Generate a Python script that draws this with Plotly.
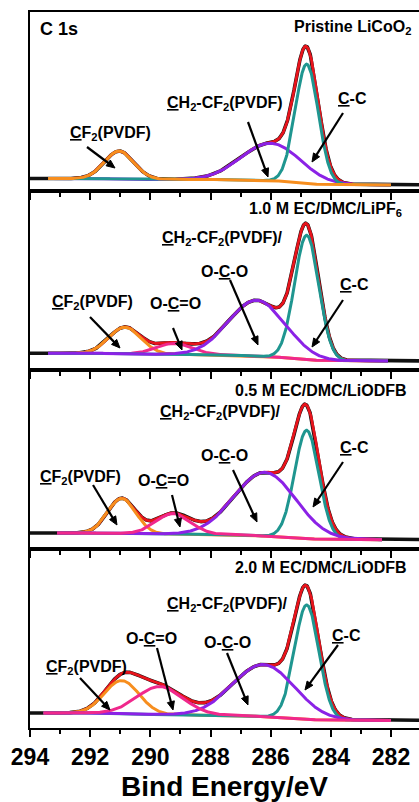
import math
import numpy as np
import plotly.graph_objects as go
from plotly.subplots import make_subplots

# ---------------- data ----------------
panel_labels = ["Pristine LiCoO<sub>2</sub>", "1.0 M EC/DMC/LiPF<sub>6</sub>",
                "0.5 M EC/DMC/LiODFB", "2.0 M EC/DMC/LiODFB"]

# fitted components: peak position (eV), peak height above background (a.u.), FWHM (eV)
cc_pos = [284.80, 284.80, 284.80, 284.80]          # C-C
cc_height = [119.0, 124.0, 108.0, 114.0]
cc_fwhm = [0.90, 0.95, 0.95, 0.95]

ch2_pos = [286.00, 286.46, 286.19, 286.24]         # CH2-CF2(PVDF) / O-C-O
ch2_height = [37.5, 56.0, 63.6, 52.0]
ch2_fwhm = [2.30, 2.20, 2.40, 2.40]

oco_pos = [None, 289.20, 289.24, 289.68]           # O-C=O (absent in pristine)
oco_height = [0.0, 11.0, 20.5, 28.0]
oco_fwhm = [None, 1.40, 1.35, 1.80]

cf2_pos = [291.03, 290.84, 290.95, 290.95]         # CF2(PVDF)
cf2_height = [28.0, 26.6, 35.0, 33.0]
cf2_fwhm = [1.15, 1.25, 1.10, 1.35]

bg_high = [12.4, 16.7, 16.0, 15.0]                 # background, high-BE side
bg_low = [6.0, 9.0, 9.3, 7.6]                      # background, low-BE side
fit_start = [293.40, 293.40, 293.10, 293.55]
fit_end = [282.00, 282.10, 282.30, 282.00]

x_ticks = [294, 292, 290, 288, 286, 284, 282]

# ---------------- styling ----------------
FONT = "Liberation Sans, Arial, sans-serif"
C_BLACK = "#111111"
C_RED = "#E8141C"
C_ORANGE = "#F78E1E"
C_PURPLE = "#8B22E6"
C_TEAL = "#1F9690"
C_PINK = "#F0288C"

draw_order = [
    ["ch2", "cc", "cf2"],
    ["cf2", "oco", "cc", "ch2"],
    ["cf2", "cc", "ch2", "oco"],
    ["cf2", "cc", "ch2", "oco"],
]
comp_color = {"cc": C_TEAL, "ch2": C_PURPLE, "oco": C_PINK, "cf2": C_ORANGE}


def gauss(E, c, h, w):
    s = w / 2.3548
    return h * np.exp(-0.5 * ((E - c) / s) ** 2)


fig = make_subplots(rows=4, cols=1, shared_xaxes=True, vertical_spacing=0)

for i in range(4):
    row = i + 1
    E = np.arange(fit_end[i], fit_start[i] + 1e-9, 0.01)
    comps = {
        "cc": gauss(E, cc_pos[i], cc_height[i], cc_fwhm[i]),
        "ch2": gauss(E, ch2_pos[i], ch2_height[i], ch2_fwhm[i]),
        "cf2": gauss(E, cf2_pos[i], cf2_height[i], cf2_fwhm[i]),
    }
    if oco_pos[i] is not None:
        comps["oco"] = gauss(E, oco_pos[i], oco_height[i], oco_fwhm[i])
    total = sum(comps.values())
    frac = np.cumsum(total) / np.sum(total)
    bg = bg_low[i] + (bg_high[i] - bg_low[i]) * frac
    env = bg + total

    # measured spectrum (black), extends beyond the fit window
    xd = np.concatenate([[280.5], E, [294.5]])
    yd = np.concatenate([[bg_low[i]], env, [bg_high[i]]])
    fig.add_trace(go.Scatter(x=xd, y=yd, mode="lines", hoverinfo="skip",
                             line=dict(color=C_BLACK, width=3.6)), row=row, col=1)
    fig.add_trace(go.Scatter(x=E, y=env, mode="lines", hoverinfo="skip",
                             line=dict(color=C_RED, width=2.8)), row=row, col=1)
    for k in draw_order[i]:
        fig.add_trace(go.Scatter(x=E, y=bg + comps[k], mode="lines", hoverinfo="skip",
                                 line=dict(color=comp_color[k], width=3)), row=row, col=1)

for r in range(1, 5):
    fig.update_xaxes(row=r, col=1, range=[294, 281.07], autorange=False,
                     showline=True, linewidth=2, linecolor="black", mirror=True,
                     ticks="outside", ticklen=7, tickwidth=2, tickcolor="black",
                     tickvals=x_ticks, ticktext=[str(v) for v in x_ticks],
                     minor=dict(ticks="outside", ticklen=4, tickwidth=2, tickcolor="black",
                                tickvals=[293, 291, 289, 287, 285, 283]),
                     showgrid=False, zeroline=False, showticklabels=(r == 4),
                     tickfont=dict(family=FONT, size=23, color="black", weight="bold"))
    fig.update_yaxes(row=r, col=1, range=[0, 179], autorange=False,
                     showline=True, linewidth=2, linecolor="black", mirror=False,
                     ticks="", showticklabels=False, showgrid=False, zeroline=False)

fig.update_xaxes(row=4, col=1,
                 title=dict(text="<b>Bind Energy/eV</b>", standoff=8,
                            font=dict(family=FONT, size=28, color="black")))

fig.update_layout(width=419, height=802, showlegend=False,
                  margin=dict(l=30, r=0, t=12, b=74),
                  plot_bgcolor="white", paper_bgcolor="white")

# ---------------- annotations (pixel positions) ----------------
def pxx(x):
    return (x - 30) / 389.0


def pyy(y):
    return (728 - y) / 716.0


ann = []
shapes = []


def label(text, x, y, size=16, xanchor="center"):
    ann.append(dict(text="<b>" + text + "</b>", x=pxx(x), y=pyy(y), xref="paper", yref="paper",
                    showarrow=False, xanchor=xanchor, yanchor="middle",
                    font=dict(family=FONT, size=size, color="black")))


def arrow(x0, y0, x1, y1, head_len=8.5, head_half=3.6):
    dx, dy = x1 - x0, y1 - y0
    n = math.hypot(dx, dy)
    ux, uy = dx / n, dy / n
    bx, by = x1 - ux * head_len, y1 - uy * head_len
    nx, ny = -uy, ux
    shapes.append(dict(type="line", xref="paper", yref="paper",
                       x0=pxx(x0), y0=pyy(y0), x1=pxx(bx + ux), y1=pyy(by + uy),
                       line=dict(color="black", width=2.2)))
    path = "M {:.5f},{:.5f} L {:.5f},{:.5f} L {:.5f},{:.5f} Z".format(
        pxx(x1), pyy(y1),
        pxx(bx + nx * head_half), pyy(by + ny * head_half),
        pxx(bx - nx * head_half), pyy(by - ny * head_half))
    shapes.append(dict(type="path", xref="paper", yref="paper", path=path,
                       fillcolor="black", line=dict(color="black", width=1)))


CF2 = "<u>C</u>F<sub>2</sub>(PVDF)"
CH2 = "<u>C</u>H<sub>2</sub>-CF<sub>2</sub>(PVDF)"
CC = "<u>C</u>-C"
OCO = "O-<u>C</u>-O"
OCdO = "O-<u>C</u>=O"

label("C 1s", 38, 29, size=18, xanchor="left")
label(panel_labels[0], 413, 28, xanchor="right")
label(panel_labels[1], 404, 209, xanchor="right")
label(panel_labels[2], 409, 390, xanchor="right")
label(panel_labels[3], 409, 567, xanchor="right")

# panel 1
label(CF2, 110, 134)
label(CH2, 225, 103)
label(CC, 352, 99)
arrow(87, 147, 115, 168)
arrow(248, 122, 268, 177)
arrow(343, 113, 312, 162)
# panel 2
label(CH2 + "/", 222, 238)
label(OCO, 224, 271)
label(CC, 354, 285)
label(CF2, 92, 303)
label(OCdO, 175, 304)
arrow(230, 280, 258, 345)
arrow(343, 300, 312, 347)
arrow(90, 317, 120, 348)
arrow(173, 328, 182, 350)
# panel 3
label(CH2 + "/", 220, 412)
label(OCO, 224, 456)
label(CC, 354, 447)
label(CF2, 80, 477)
label(OCdO, 163, 480)
arrow(233, 470, 257, 522)
arrow(343, 462, 313, 507)
arrow(93, 485, 117, 525)
arrow(172, 495, 180, 527)
# panel 4
label(CH2 + "/", 227, 604)
label(OCdO, 151, 638)
label(OCO, 227, 642)
label(CC, 346, 635)
label(CF2, 86, 667)
arrow(157, 648, 173, 710)
arrow(227, 653, 248, 705)
arrow(338, 645, 305, 690)
arrow(80, 678, 110, 710)

fig.update_layout(annotations=ann, shapes=shapes)

fig.write_html("out.html", config={"displayModeBar": False},
               post_script="document.body.style.margin='0';document.body.style.overflow='hidden';")
